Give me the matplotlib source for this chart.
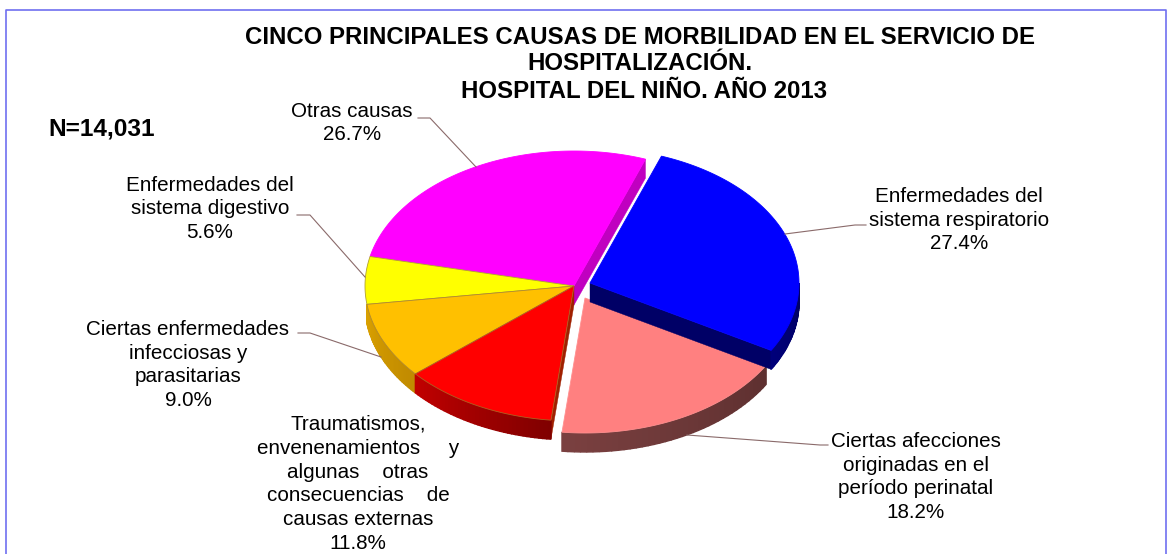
import numpy as np
import matplotlib
matplotlib.use('Agg')
import matplotlib.pyplot as plt

plt.rcParams['font.family'] = ['Liberation Sans', 'DejaVu Sans']

# Data
categories = [
    'Enfermedades del\nsistema respiratorio',
    'Ciertas afecciones\noriginadas en el\nperíodo perinatal',
    'Traumatismos,\nenvenenamientos     y\nalgunas    otras\nconsecuencias    de\ncausas externas',
    'Ciertas enfermedades\ninfecciosas y\nparasitarias',
    'Enfermedades del\nsistema digestivo',
    'Otras causas',
]
values = [27.4, 18.2, 11.8, 9.0, 5.6, 26.7]
title_lines = [
    'CINCO PRINCIPALES CAUSAS DE MORBILIDAD EN EL SERVICIO DE',
    'HOSPITALIZACIÓN.',
    'HOSPITAL DEL NIÑO. AÑO 2013',
]
n_text = 'N=14,031'

# Styles
top_colors = ['#0000FF', '#FF8080', '#FF0000', '#FFC000', '#FFFF00', '#FF00FF']
wall_left = ['#00007A', '#7A4040', '#C00000', '#D9A000', '#CCCC00', '#C000C0']
wall_right = ['#000060', '#5E3030', '#800000', '#C08A00', '#CCCC00', '#C000C0']
cut_colors = ['#000066', '#5E3030', '#A02000', '#C08A00', '#CCCC00', '#C000C0']
edge_colors = ['#0000FF', '#FF9090', '#B06020', '#B08A30', '#B0A030', '#FF00FF']

# Layout, in pixels of the 1170x554 picture
hub = (574, 286)
offsets = [(16, -3), (11, 12), (0, 0), (0, 0), (0, 0), (0, 0)]
rx, ry = 209, 135
depth = 19
start = 70

label_pos = [(959, 220), (916, 477), (358, 484), (188, 365), (210, 209), (352, 123)]
leaders = [
    [(785, 234), (855, 225), (866, 225)],
    [(687, 435), (820, 445), (828, 445)],
    [],
    [(298, 333), (310, 333), (381, 357)],
    [(297, 215), (310, 215), (365, 277)],
    [(418, 118), (430, 118), (476, 167)],
]

fig = plt.figure(figsize=(11.7, 5.54), dpi=100)
ax = fig.add_axes([0, 0, 1, 1])
ax.set_xlim(0, 1170)
ax.set_ylim(554, 0)
ax.axis('off')

# Frame, the bottom side is cut off by the picture
ax.plot([5.5, 5.5, 1165.5, 1165.5], [554, 9.5, 9.5, 554], color='#7070F0', lw=1.2, zorder=1)

# Slice angles, clockwise from the start angle
sweep = 360 * np.array(values) / sum(values)
ends = start - np.cumsum(sweep)
starts = ends + sweep


def ellipse_pts(cx, cy, a0, a1):
    t = np.radians(np.linspace(a0, a1, max(int(abs(a1 - a0)) * 2, 2)))
    return cx + rx * np.cos(t), cy - ry * np.sin(t)


def blend(c0, c1, f):
    c0 = np.array(matplotlib.colors.to_rgb(c0))
    c1 = np.array(matplotlib.colors.to_rgb(c1))
    return c0 * (1 - f) + c1 * f


def draw_wall(i, z):
    # outer wall, only the part that faces the viewer (lower half of the ellipse)
    a0 = min(starts[i], 0)
    a1 = max(ends[i], -180)
    cx, cy = hub[0] + offsets[i][0], hub[1] + offsets[i][1]
    steps = np.linspace(a0, a1, 40)
    for k in range(len(steps) - 1):
        x, y = ellipse_pts(cx, cy, steps[k], steps[k + 1])
        c = blend(wall_right[i], wall_left[i], k / 38)
        ax.fill(np.r_[x, x[::-1]], np.r_[y, y[::-1] + depth], color=c, lw=1.0, zorder=z)


def draw_cut(i, angle, z):
    # flat wall along the cut from the hub to the rim
    cx, cy = hub[0] + offsets[i][0], hub[1] + offsets[i][1]
    ex = cx + rx * np.cos(np.radians(angle))
    ey = cy - ry * np.sin(np.radians(angle))
    ax.fill([cx, ex, ex, cx], [cy, ey, ey + depth, cy + depth],
            color=cut_colors[i], lw=0.3, zorder=z)


def draw_top(i, z):
    cx, cy = hub[0] + offsets[i][0], hub[1] + offsets[i][1]
    x, y = ellipse_pts(cx, cy, starts[i], ends[i])
    ax.fill(np.r_[cx, x], np.r_[cy, y], facecolor=top_colors[i],
            edgecolor=edge_colors[i], lw=0.6, zorder=z)


# back to front
draw_cut(5, ends[5], 2)
draw_top(5, 3)
draw_cut(2, starts[2], 2)
draw_top(4, 3)
for i in [3, 2]:
    draw_wall(i, 2)
    draw_top(i, 3)
draw_wall(1, 4)
draw_top(1, 5)
draw_cut(0, ends[0], 6)
draw_wall(0, 6)
draw_top(0, 7)

# Leader lines
for pts in leaders:
    if pts:
        xs, ys = zip(*pts)
        ax.plot(xs, ys, color='#8A6A6A', lw=0.8, zorder=8)

# Labels
for name, v, (x, y) in zip(categories, values, label_pos):
    ax.text(x, y, f'{name}\n{v:.1f}%', ha='center', va='center', fontsize=14.9,
            linespacing=1.33, color='black', zorder=9)

# Title
for line, x, y in zip(title_lines, [640, 640, 644], [38, 63, 92]):
    ax.text(x, y, line, ha='center', va='center', fontsize=17.3, fontweight='bold', color='black')
ax.text(48, 129, n_text, ha='left', va='center', fontsize=17.6, fontweight='bold', color='black')

fig.savefig('out.png', dpi=100)
